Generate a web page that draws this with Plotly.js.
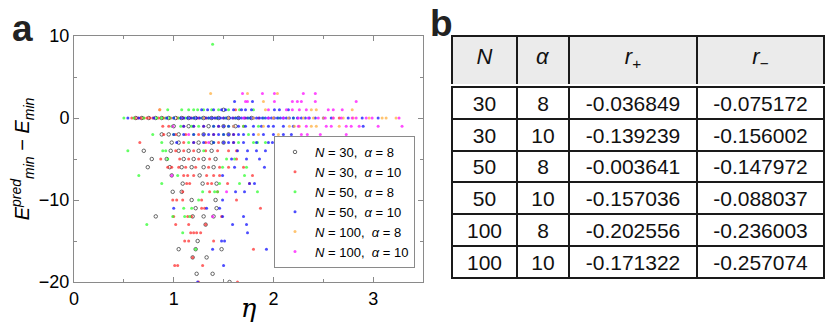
<!DOCTYPE html>
<html>
<head>
<meta charset="utf-8">
<script src="https://cdn.plot.ly/plotly-3.0.1.min.js"></script>
<style>
  html, body { margin: 0; padding: 0; background: #fff; }
  #chart { width: 831px; height: 323px; }
</style>
</head>
<body>
<div id="chart"></div>
<script>
// panel a: rows of [E_pred - E_min, [eta values]] for each (N, alpha) run
const rows30_8 = [
  [0, [0.62, 0.68, 0.75, 0.82, 0.88, 0.95, 1.02, 1.08, 1.15, 1.22, 1.3, 1.38, 1.45, 1.55, 1.65, 1.78]],
  [1, [1.5]],
  [-1, [1.0, 1.15, 1.35, 1.5, 1.62]],
  [-2, [0.88, 0.95, 1.05, 1.3, 1.55]],
  [-3, [0.98, 1.05, 1.25, 1.38, 1.5]],
  [-4, [0.70, 0.97, 1.05, 1.15, 1.25, 1.38]],
  [-5, [0.78, 0.93, 1.1, 1.2, 1.3, 1.42]],
  [-6, [0.74, 0.96, 1.08, 1.18, 1.3, 1.4]],
  [-7, [0.98, 1.26]],
  [-8, [1.09, 1.29, 1.43]],
  [-9, [0.99, 1.08]],
  [-10, [1.18, 1.42]],
  [-11, [1.22, 1.43]],
  [-12, [0.82, 1.19, 1.30, 1.40]],
  [-13, [1.32]],
  [-15, [1.24]],
  [-16, [1.05, 1.22, 1.48]],
  [-17, [1.19, 1.33]],
  [-19, [1.23, 1.39]],
  [-20, [1.56]]
];
const rows30_10 = [
  [0, [0.58, 0.61, 0.64, 0.67, 0.70, 0.73, 0.76, 0.79, 0.85, 0.9, 0.97, 1.04, 1.1, 1.18, 1.25, 1.33, 1.42, 1.5, 1.6, 1.72, 1.85, 2.0, 2.66]],
  [1, [0.86, 1.62]],
  [-1, [0.89, 0.95, 1.1, 1.2, 1.3, 1.45, 1.7]],
  [-2, [0.9, 1.02, 1.12, 1.25, 1.4, 1.6]],
  [-3, [0.66, 1.1, 1.2, 1.32, 1.45, 1.6]],
  [-4, [1.02, 1.1, 1.2, 1.32, 1.44, 1.55, 1.63]],
  [-5, [0.87, 1.06, 1.15, 1.25, 1.36, 1.63]],
  [-6, [0.94, 0.98, 1.05, 1.12, 1.22, 1.35, 1.46, 1.55, 1.7]],
  [-7, [1.1, 1.14, 1.2, 1.33, 1.4, 1.46, 1.79]],
  [-8, [1.13, 1.16, 1.34, 1.38, 1.54, 1.76]],
  [-9, [1.09, 1.36, 1.44]],
  [-10, [0.99, 1.03, 1.09, 1.28, 1.63]],
  [-11, [1.28, 1.31, 1.87]],
  [-12, [1.0, 1.14, 1.18, 1.48]],
  [-13, [1.02, 1.15, 1.32]],
  [-14, [1.17, 1.2, 1.23, 1.27]],
  [-15, [1.11, 1.15, 1.40]],
  [-16, [1.80]],
  [-17, [1.19]],
  [-18, [1.01, 1.04, 1.29]],
  [-20, [1.25, 1.64]]
];
const rows50_8 = [
  [9, [1.39]],
  [1, [0.94, 1.08, 1.15, 1.2, 1.24, 1.3, 1.38, 1.45, 1.55, 1.66, 1.8]],
  [0, [0.5, 0.6, 0.7, 0.83, 0.88, 0.92, 0.96, 1.0, 1.05, 1.12, 1.2, 1.28, 1.35, 1.43, 1.52, 1.62, 1.75, 1.9, 2.05, 2.2]],
  [-1, [0.98, 1.07, 1.18, 1.25, 1.4, 1.55, 1.7, 1.85]],
  [-2, [0.79, 1.0, 1.2, 1.5, 1.75]],
  [-3, [0.88, 1.15, 1.4, 1.65, 1.80, 1.84, 1.92]],
  [-4, [0.54, 0.89, 0.92, 1.3]],
  [-5, [0.94, 1.53, 1.61]],
  [-6, [1.49, 1.73]],
  [-7, [0.65, 1.04, 1.71]],
  [-8, [0.88, 1.46, 1.66]],
  [-9, [1.29, 1.41, 1.44, 1.84]],
  [-10, [1.25]],
  [-11, [1.1, 1.18]],
  [-12, [0.99, 1.11, 1.16]],
  [-13, [0.73]],
  [-14, [1.09]],
  [-16, [1.22]]
];
const rows50_10 = [
  [2, [1.61, 1.79]],
  [1, [1.28, 1.34, 1.4, 1.48, 1.52, 1.6, 1.68, 1.72, 1.78, 2.01, 2.06, 2.15]],
  [0, [0.54, 0.65, 0.8, 0.93, 1.0, 1.07, 1.1, 1.14, 1.17, 1.2, 1.23, 1.26, 1.29, 1.32, 1.35, 1.38, 1.41, 1.44, 1.47,
       1.5, 1.53, 1.56, 1.59, 1.62, 1.65, 1.68, 1.71, 1.74, 1.77, 1.8, 1.83, 1.86, 1.89, 1.92, 1.95, 1.98, 2.01, 2.04,
       2.07, 2.1, 2.13, 2.16, 2.2, 2.24, 2.28, 2.32, 2.36, 2.42, 2.5, 2.58, 2.75, 2.89, 3.05]],
  [-1, [1.1, 1.2, 1.3, 1.4, 1.45, 1.5, 1.55, 1.6, 1.65, 1.72, 1.8, 1.88, 1.95, 2.0, 2.1, 2.2, 2.9]],
  [-2, [1.0, 1.1, 1.2, 1.3, 1.35, 1.4, 1.45, 1.5, 1.55, 1.6, 1.65, 1.7, 1.8, 1.9, 2.0, 2.1, 2.18]],
  [-3, [1.03, 1.2, 1.3, 1.4, 1.5, 1.55, 1.6, 1.7, 1.83, 1.95, 1.99, 2.04, 2.1, 2.16]],
  [-4, [1.64, 1.74, 1.83, 1.92, 2.28]],
  [-5, [1.58, 1.73, 1.86]],
  [-6, [1.61, 1.91]],
  [-7, [1.49, 2.03]],
  [-8, [1.76, 1.81]],
  [-9, [1.62, 1.71]],
  [-10, [1.49]],
  [-11, [1.0, 1.33, 1.46]],
  [-12, [1.49, 1.70]],
  [-13, [1.59, 1.73]],
  [-14, [1.74]],
  [-15, [1.48, 1.51]],
  [-16, [1.39, 1.93]],
  [-18, [1.50]],
  [-20, [1.24]]
];
const rows100_8 = [
  [3, [1.37, 1.74, 2.04]],
  [2, [1.90]],
  [1, [0.86, 1.92, 2.38, 2.43, 2.79]],
  [0, [1.3, 1.55, 1.8, 2.0, 2.15, 2.3, 2.4, 2.5, 2.6, 2.7, 2.8, 2.96, 3.09, 3.13, 3.23]],
  [-1, [1.6, 1.9, 2.16, 2.21, 2.26, 2.38, 2.43, 2.66]],
  [-2, [1.85, 2.05]]
];
const rows100_10 = [
  [3, [1.69, 1.89, 2.01, 2.30, 2.42]],
  [2, [1.72, 1.74, 2.01, 2.19, 2.24, 2.28, 2.42, 2.83]],
  [1, [1.95, 2.13, 2.19, 2.26, 2.33, 2.55, 2.60, 2.69]],
  [0, [1.7, 1.95, 2.1, 2.25, 2.35, 2.45, 2.52, 2.6, 2.68, 2.79, 2.83, 2.93, 2.99, 3.26]],
  [-1, [0.99, 2.25, 2.33, 2.53, 2.58, 2.73, 2.78, 2.86, 3.05, 3.29]],
  [-2, [1.15, 2.28, 2.34, 2.47, 2.73]],
  [-3, [1.35]],
  [-4, [2.39]],
  [-7, [0.98]],
  [-9, [1.53]],
  [-12, [1.39]]
];

const seriesNames = [
  "<i>N</i> = 30,  <i>α</i> = 8",
  "<i>N</i> = 30,  <i>α</i> = 10",
  "<i>N</i> = 50,  <i>α</i> = 8",
  "<i>N</i> = 50,  <i>α</i> = 10",
  "<i>N</i> = 100,  <i>α</i> = 8",
  "<i>N</i> = 100,  <i>α</i> = 10"
];
const seriesColors = ["#404040", "#ff3030", "#30ff30", "#1010ff", "#ffb040", "#ff10ff"];

// panel b: correlation table
const colN = ["30", "30", "50", "50", "100", "100"];
const colAlpha = ["8", "10", "8", "10", "8", "10"];
const colRplus = ["-0.036849", "-0.139239", "-0.003641", "-0.157036", "-0.202556", "-0.171322"];
const colRminus = ["-0.075172", "-0.156002", "-0.147972", "-0.088037", "-0.236003", "-0.257074"];
const tableHeader = ["<i>N</i>", "<i>α</i>", "<i>r</i><sub>+</sub>", "<i>r</i><sub>−</sub>"];

const W = 831, H = 323;
const FONT = "Liberation Sans, Arial, sans-serif";

function flatten(rows) {
  const x = [], y = [];
  rows.forEach(function (r) {
    r[1].forEach(function (eta) { x.push(eta); y.push(r[0]); });
  });
  return { x: x, y: y };
}

const allRows = [rows30_8, rows30_10, rows50_8, rows50_10, rows100_8, rows100_10];
const data = allRows.map(function (rows, i) {
  const p = flatten(rows);
  return {
    x: p.x,
    y: p.y,
    name: seriesNames[i],
    type: "scatter",
    mode: "markers",
    marker: i === 0
      ? { symbol: "circle-open", size: 3.5, color: seriesColors[i], line: { width: 0.8 } }
      : { symbol: "circle", size: 3, color: seriesColors[i], opacity: 0.75 }
  };
});

const tableLine = { color: "#1a1a1a", width: 2 };
const tx0 = 452 / W, tx1 = 824 / W;
const colWidths = [65, 52, 128, 127];
const EMPTY_HEAD = 20; // plotly keeps a blank header strip on tables without header

data.push({
  type: "table",
  domain: { x: [tx0, tx1], y: [1 - 85 / H, 1 - 36 / H] },
  columnwidth: colWidths,
  header: {
    values: tableHeader,
    height: 49,
    align: "center",
    fill: { color: "#ebebeb" },
    line: tableLine,
    font: { family: FONT, size: 22, color: "#111" }
  },
  cells: { values: [] },
  showlegend: false
});

data.push({
  type: "table",
  domain: { x: [tx0, tx1], y: [1 - 283 / H, 1 - (91 - EMPTY_HEAD) / H] },
  columnwidth: colWidths,
  header: { values: [], fill: { color: "rgba(0,0,0,0)" }, line: { width: 0, color: "rgba(0,0,0,0)" } },
  cells: {
    values: [colN, colAlpha, colRplus, colRminus],
    height: 31.8,
    align: "center",
    fill: { color: "#fff" },
    line: tableLine,
    font: { family: FONT, size: 21, color: "#111" }
  },
  showlegend: false
});

const axisStyle = {
  showline: true,
  linecolor: "#8a8a8a",
  linewidth: 1,
  mirror: "ticks",
  ticks: "inside",
  ticklen: 5,
  tickcolor: "#8a8a8a",
  showgrid: false,
  zeroline: false,
  tickfont: { family: FONT, size: 18, color: "#000" }
};

const layout = {
  width: W,
  height: H,
  margin: { l: 0, r: 0, t: 0, b: 0 },
  paper_bgcolor: "#fff",
  plot_bgcolor: "#fff",
  font: { family: FONT, color: "#000" },
  xaxis: Object.assign({}, axisStyle, {
    domain: [74 / W, 423 / W],
    range: [0, 3.5],
    dtick: 1,
    tick0: 0,
    minor: { dtick: 0.5, ticks: "inside", ticklen: 3, tickcolor: "#8a8a8a" },
    title: { text: "<i>η</i>", font: { family: "DejaVu Serif, serif", size: 26 }, standoff: 0 }
  }),
  yaxis: Object.assign({}, axisStyle, {
    domain: [1 - 282 / H, 1 - 36 / H],
    range: [-20, 10],
    dtick: 10,
    tick0: 0,
    minor: { dtick: 5, ticks: "inside", ticklen: 3, tickcolor: "#8a8a8a" },
    title: {
      text: "<i>E</i><sup><i>pred</i></sup><sub><i>min</i></sub> − <i>E</i><sub><i>min</i></sub>",
      font: { family: FONT, size: 20 },
      standoff: 3
    }
  }),
  legend: {
    x: 415 / W,
    y: 1 - 268 / H,
    xanchor: "right",
    yanchor: "bottom",
    bgcolor: "#fff",
    bordercolor: "#8a8a8a",
    borderwidth: 1,
    itemwidth: 30,
    font: { family: FONT, size: 13, color: "#000" }
  },
  annotations: [
    { text: "<b>a</b>", x: 22 / W, y: 1 - 28 / H, xref: "paper", yref: "paper",
      showarrow: false, xanchor: "center", yanchor: "middle",
      font: { family: FONT, size: 37, color: "#222" } },
    { text: "<b>b</b>", x: 441 / W, y: 1 - 24 / H, xref: "paper", yref: "paper",
      showarrow: false, xanchor: "center", yanchor: "middle",
      font: { family: FONT, size: 37, color: "#222" } }
  ]
};

Plotly.newPlot("chart", data, layout, { displayModeBar: false, staticPlot: true });
</script>
</body>
</html>
